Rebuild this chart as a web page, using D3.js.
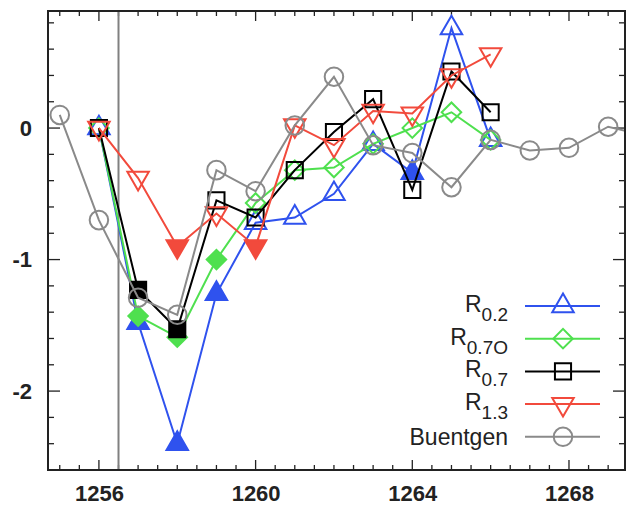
<!DOCTYPE html>
<html><head><meta charset="utf-8">
<script src="https://cdn.jsdelivr.net/npm/d3@7"></script>
<style>body{margin:0;background:#fff}svg{display:block}</style>
</head><body>
<svg id="c" width="628" height="508"></svg>
<script>
const years = [1256,1257,1258,1259,1260,1261,1262,1263,1264,1265,1266];
const r02  = [0,-1.48,-2.40,-1.26,-0.72,-0.68,-0.50,-0.12,-0.34,0.76,-0.09];
const r07O = [0,-1.43,-1.59,-1.00,-0.57,-0.32,-0.30,-0.12,0.00,0.12,-0.09];
const r07  = [0,-1.23,-1.53,-0.55,-0.68,-0.32,-0.03,0.22,-0.47,0.43,0.12];
const r13  = [0,-0.38,-0.90,-0.65,-0.90,0.02,-0.13,0.13,0.11,0.40,0.56];
const buYears = [1255,1256,1257,1258,1259,1260,1261,1262,1263,1264,1265,1266,1267,1268,1269,1270];
const buentgen = [0.10,-0.70,-1.29,-1.42,-0.32,-0.48,0.02,0.39,-0.13,-0.19,-0.45,-0.09,-0.17,-0.15,0.01,-0.06];
// filled markers (years)
const r02Filled = [1257,1258,1259,1264];
const r07OFilled = [1257,1258,1259];
const r07Filled = [1257,1258];
const r13Filled = [1258,1260];
const xTicks = [1256,1260,1264,1268];
const yTicks = [-2,-1,0];
const eventYear = 1256.5;

const W=628,H=508, L=48, R=625, T=11, B=470;
const x = d3.scaleLinear().domain([1254.7,1269.43]).range([L,R]);
const y = d3.scaleLinear().domain([-2.6,0.89]).range([B,T]);
const svg = d3.select('#c');

svg.append('defs').append('clipPath').attr('id','clip')
  .append('rect').attr('x',L).attr('y',T).attr('width',R-L).attr('height',B-T);

const font = "'Liberation Sans', Arial, Helvetica, sans-serif";
const axisColor = '#222';

// ticks
const minorX = d3.range(1255,1269.5,0.5);
const minorY = d3.range(-2.6,0.9001,0.2).map(v=>Math.round(v*10)/10);
const tg = svg.append('g').attr('stroke',axisColor).attr('stroke-width',1.3);
minorX.forEach(v=>{
  const major = xTicks.includes(v);
  const len = major?10:5;
  tg.append('line').attr('x1',x(v)).attr('x2',x(v)).attr('y1',B).attr('y2',B-len);
  tg.append('line').attr('x1',x(v)).attr('x2',x(v)).attr('y1',T).attr('y2',T+len);
});
minorY.forEach(v=>{
  const major = yTicks.includes(v);
  const len = major?12:6;
  tg.append('line').attr('y1',y(v)).attr('y2',y(v)).attr('x1',L).attr('x2',L+len);
  tg.append('line').attr('y1',y(v)).attr('y2',y(v)).attr('x1',R).attr('x2',R-len);
});

const fmt = d => String(d);
const xa = svg.append('g').attr('transform',`translate(0,${B})`)
  .call(d3.axisBottom(x).tickValues(xTicks).tickFormat(fmt).tickSize(0).tickPadding(15));
xa.select('.domain').remove();
xa.selectAll('text').attr('font-family',font).attr('font-size',22).attr('font-weight','bold').attr('fill','#222');
const ya = svg.append('g').attr('transform',`translate(${L},0)`)
  .call(d3.axisLeft(y).tickValues(yTicks).tickFormat(fmt).tickSize(0).tickPadding(16));
ya.select('.domain').remove();
ya.selectAll('text').attr('font-family',font).attr('font-size',22).attr('font-weight','bold').attr('fill','#222');

// event line
svg.append('line').attr('x1',x(eventYear)).attr('x2',x(eventYear)).attr('y1',T).attr('y2',B)
  .attr('stroke','#808080').attr('stroke-width',2);

const series = [
  {name:'R', sub:'0.2', xs:years, ys:r02, color:'#2f52ee', sym:'tri', filled:r02Filled},
  {name:'R', sub:'0.7O', xs:years, ys:r07O, color:'#4fe04f', sym:'dia', filled:r07OFilled},
  {name:'R', sub:'0.7', xs:years, ys:r07, color:'#000000', sym:'sq', filled:r07Filled},
  {name:'R', sub:'1.3', xs:years, ys:r13, color:'#f24a3c', sym:'tridown', filled:r13Filled},
  {name:'Buentgen', sub:null, xs:buYears, ys:buentgen, color:'#8a8a8a', sym:'circ', filled:[]},
];

function symPath(s){
  if(s==='tri'||s==='tridown') return d3.symbol(d3.symbolTriangle,200)();
  if(s==='sq') return d3.symbol(d3.symbolSquare,260)();
  if(s==='dia') return d3.symbol(d3.symbolSquare,190)();
  return d3.symbol(d3.symbolCircle,270)();
}
function symRot(s){ return s==='tridown'?180:(s==='dia'?45:0); }

const plot = svg.append('g').attr('clip-path','url(#clip)');
series.forEach(s=>{
  const pts = s.xs.map((v,i)=>[v,s.ys[i]]);
  plot.append('path').attr('d',d3.line().x(d=>x(d[0])).y(d=>y(d[1]))(pts))
    .attr('fill','none').attr('stroke',s.color).attr('stroke-width',2);
  plot.selectAll(null).data(pts).enter().append('path')
    .attr('d',symPath(s.sym))
    .attr('transform',d=>`translate(${x(d[0])},${y(d[1])}) rotate(${symRot(s.sym)})`)
    .attr('fill',d=>s.filled.includes(d[0])?s.color:'none')
    .attr('stroke',s.color).attr('stroke-width',2);
});

// frame
svg.append('rect').attr('x',L).attr('y',T).attr('width',R-L).attr('height',B-T)
  .attr('fill','none').attr('stroke',axisColor).attr('stroke-width',2);

// legend
const lg = svg.append('g');
series.forEach((s,i)=>{
  const yy = 306 + i*32.7;
  lg.append('line').attr('x1',525).attr('x2',600).attr('y1',yy).attr('y2',yy)
    .attr('stroke',s.color).attr('stroke-width',2);
  lg.append('path').attr('d',symPath(s.sym))
    .attr('transform',`translate(563,${yy}) rotate(${symRot(s.sym)})`)
    .attr('fill','none').attr('stroke',s.color).attr('stroke-width',2);
  const t = lg.append('text').attr('x',508).attr('y',yy+ (s.sub?6:8)).attr('text-anchor','end')
    .attr('font-family',font).attr('font-size',23).attr('fill','#222');
  t.append('tspan').text(s.name);
  if(s.sub) t.append('tspan').attr('dy',9).attr('font-size',19).text(s.sub);
});
</script>
</body></html>
